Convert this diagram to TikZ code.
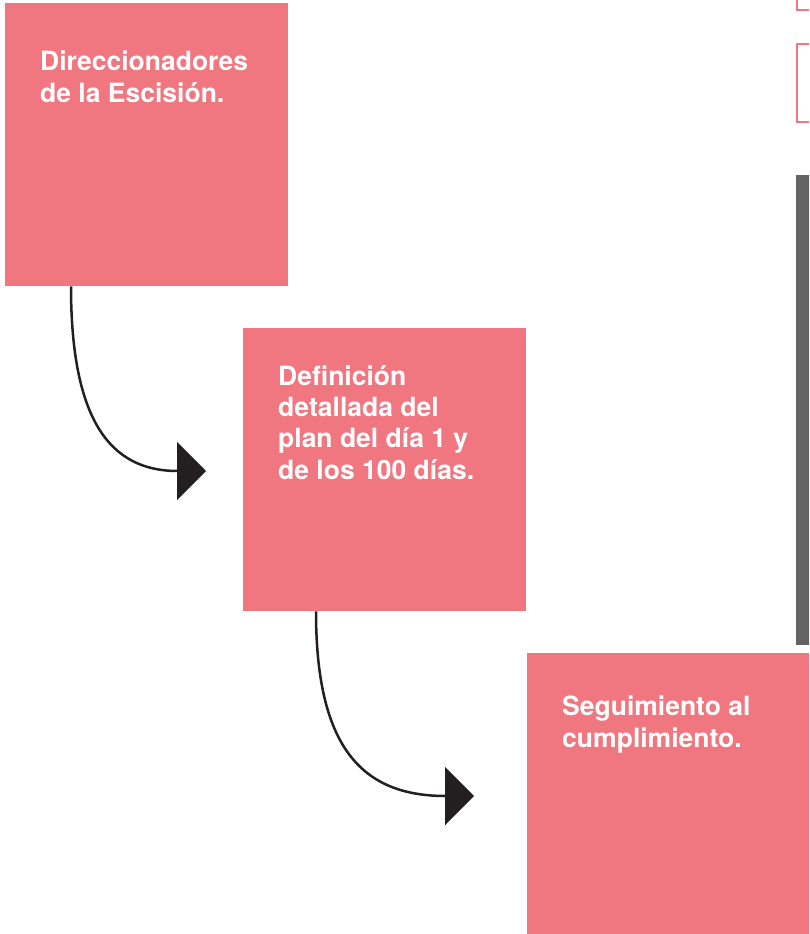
\documentclass[tikz,border=0pt]{standalone}
\usepackage{fontspec}
\setmainfont{TeX Gyre Heros}
\usepackage{tikz}
\usepackage{xcolor}
\usetikzlibrary{arrows.meta}
\definecolor{cardpink}{RGB}{240,118,128}
\definecolor{bargray}{RGB}{99,99,99}
\definecolor{inkblack}{RGB}{35,31,32}
\tikzset{%
  tipF/.tip={Triangle[length=29pt,width=58pt]},
  card/.style={fill=cardpink, draw=none, minimum size=283pt, inner sep=0pt, anchor=north west},
  cardtext/.style={text=white, font=\fontsize{26.5}{31.3}\selectfont\bfseries, align=left, inner sep=0pt, anchor=north west},
  flow/.style={inkblack, line width=2.5pt, -tipF}
}

\begin{document}
\begin{tikzpicture}[x=1pt,y=-1pt]
\useasboundingbox (0,0) rectangle (809,934);
\clip (0,0) rectangle (809,934);
% the three steps
\node[card] (dir) at (5,3) {};
\node[card] (def) at (243,328) {};
\node[card] (seg) at (527,653) {};
\node[cardtext] (dirtxt) at ([shift={(35,48)}]dir.north west) {Direccionadores\\de la Escisi\'on.};
\node[cardtext] (deftxt) at ([shift={(35,37)}]def.north west) {Definici\'on\\detallada del\\plan del d\'ia 1 y\\de los 100 d\'ias.};
\node[cardtext] (segtxt) at ([shift={(35,43)}]seg.north west) {Seguimiento al\\cumplimiento.};
% cut-off boxes on the right edge
\draw[cardpink, line width=2pt] (797,-20) rectangle (830,10);
\draw[cardpink, line width=2pt] (797,44) rectangle (830,122);
\fill[bargray] (796,175) rectangle (830,645);
% arrows
\coordinate (tipA) at (206,471);
\coordinate (tipB) at (474,796);
\draw[flow] ([xshift=66pt]dir.south west) .. controls (71,420) and (110,471) .. (tipA);
\draw[flow] ([xshift=73pt]def.south west) .. controls (316,745) and (360,796) .. (tipB);
\end{tikzpicture}
\end{document}
